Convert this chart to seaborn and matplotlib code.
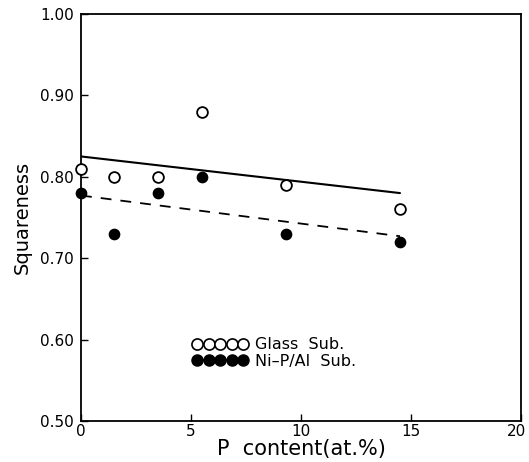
import matplotlib
matplotlib.use("Agg")
import matplotlib.pyplot as plt
import matplotlib.transforms as mtransforms
import seaborn as sns
import pandas as pd
from matplotlib.lines import Line2D

# Data
p_content = [0, 1.5, 3.5, 5.5, 9.3, 14.5]
glass_sq = [0.81, 0.80, 0.80, 0.88, 0.79, 0.76]
nip_sq = [0.78, 0.73, 0.78, 0.80, 0.73, 0.72]

# Fitted trend lines (endpoints)
fit_x = [0, 14.5]
glass_fit = [0.825, 0.780]
nip_fit = [0.777, 0.727]

x_ticks = [0, 5, 10, 15, 20]
y_ticks = [0.50, 0.60, 0.70, 0.80, 0.90, 1.00]

sns.set_style("ticks")
plt.rcParams['font.family'] = ['DejaVu Sans']
plt.rcParams['text.color'] = 'black'
plt.rcParams['axes.labelcolor'] = 'black'
plt.rcParams['xtick.color'] = 'black'
plt.rcParams['ytick.color'] = 'black'

fig = plt.figure(figsize=(5.29, 4.62), dpi=100)
ax = fig.add_axes([81/529, 1 - 421/462, (521-81)/529, (421-14)/462])

df_g = pd.DataFrame({"x": p_content, "y": glass_sq})
df_n = pd.DataFrame({"x": p_content, "y": nip_sq})
df_gf = pd.DataFrame({"x": fit_x, "y": glass_fit})
df_nf = pd.DataFrame({"x": fit_x, "y": nip_fit})

sns.lineplot(data=df_gf, x="x", y="y", ax=ax, color="black", lw=1.5, linestyle="-")
sns.lineplot(data=df_nf, x="x", y="y", ax=ax, color="black", lw=1.3, linestyle=(0, (6, 5)))
sns.scatterplot(data=df_g, x="x", y="y", ax=ax, marker="o", s=60,
                facecolor="white", edgecolor="black", linewidth=1.3, zorder=5, clip_on=False)
sns.scatterplot(data=df_n, x="x", y="y", ax=ax, marker="o", s=55,
                color="black", edgecolor="black", linewidth=1.0, zorder=5, clip_on=False)

ax.set_xlim(0, 20)
ax.set_ylim(0.5, 1.0)
ax.set_xticks(x_ticks)
ax.set_xticklabels([str(t) for t in x_ticks])
ax.set_yticks(y_ticks)
ax.set_yticklabels([f"{t:.2f}" for t in y_ticks])
ax.tick_params(direction="in", length=5, width=1, labelsize=11, pad=5, colors="black")
ax.tick_params(axis="x", pad=2)
for s in ax.spines.values():
    s.set_linewidth(1.3)
    s.set_color("black")
    s.set_visible(True)

# keep the last x tick label inside the figure
last = ax.get_xticklabels()[-1]
last.set_transform(last.get_transform() +
                   mtransforms.ScaledTranslation(-4/100, 0, fig.dpi_scale_trans))

ax.set_xlabel("P  content(at.%)", fontsize=15, labelpad=0, color="black")
ax.set_ylabel("Squareness", fontsize=14, labelpad=6, color="black")

h1 = Line2D([0], [0], color="black", lw=1.2, marker="o", markersize=8,
            markerfacecolor="white", markeredgecolor="black", markeredgewidth=1.2)
h2 = Line2D([0], [0], color="black", lw=1.2, marker="o", markersize=8,
            markerfacecolor="black", markeredgecolor="black")
leg = ax.legend([h1, h2], ["Glass  Sub.", "Ni\u2013P/Al  Sub."], numpoints=5,
                loc="upper left", bbox_to_anchor=(0.235, 0.225), frameon=False,
                fontsize=11.5, handlelength=3.5, handletextpad=0.4, labelspacing=0.1,
                borderpad=0)
for t in leg.get_texts():
    t.set_color("black")

fig.savefig("out.png", dpi=100)
